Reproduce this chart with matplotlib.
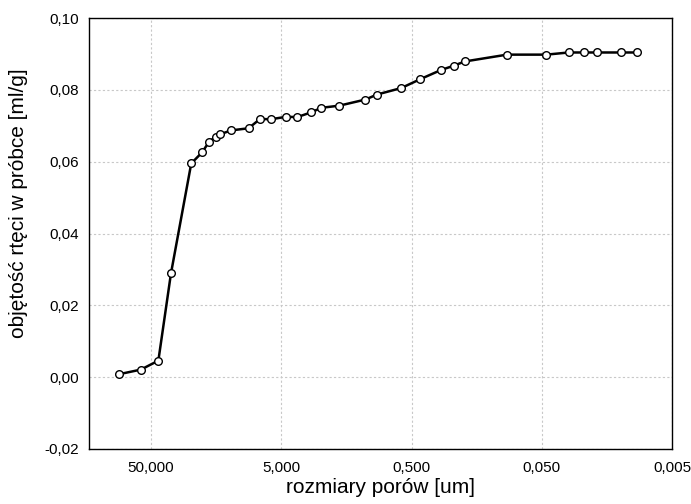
import matplotlib
matplotlib.use("Agg")
import matplotlib.pyplot as plt
from matplotlib.ticker import FixedLocator

plt.rcParams['font.family'] = ['Liberation Sans', 'DejaVu Sans']

pore_size = [88.9, 60.0, 44.0, 35.2, 24.6, 20.3, 17.9, 16.0, 14.8, 12.2, 8.93,
             7.28, 6.04, 4.58, 3.78, 2.97, 2.46, 1.79, 1.13, 0.92, 0.60, 0.427,
             0.298, 0.238, 0.195, 0.0925, 0.046, 0.0311, 0.0237, 0.0188,
             0.0123, 0.00925]
volume = [0.0008, 0.0021, 0.0046, 0.0289, 0.0595, 0.0626, 0.0656, 0.0669,
          0.0676, 0.0687, 0.0693, 0.0719, 0.0718, 0.0725, 0.0724, 0.0737,
          0.0750, 0.0756, 0.0773, 0.0787, 0.0805, 0.0830, 0.0855, 0.0867,
          0.0879, 0.0898, 0.0898, 0.0904, 0.0904, 0.0904, 0.0904, 0.0904]

x_ticks = [50, 5, 0.5, 0.05, 0.005]
x_tick_labels = ['50,000', '5,000', '0,500', '0,050', '0,005']
y_ticks = [-0.02, 0.0, 0.02, 0.04, 0.06, 0.08, 0.10]
y_tick_labels = ['-0,02', '0,00', '0,02', '0,04', '0,06', '0,08', '0,10']

fig = plt.figure(figsize=(6.91, 5.04), dpi=100)
ax = fig.add_axes([89/691, 1 - 449/504, (672 - 89)/691, (449 - 18)/504])

ax.plot(pore_size, volume, color='black', linewidth=1.8, marker='o',
        markersize=5.5, markerfacecolor='white', markeredgecolor='black',
        markeredgewidth=1.0, zorder=3)

ax.set_xscale('log')
ax.set_xlim(150, 0.005)
ax.set_ylim(-0.02, 0.10)
ax.xaxis.set_major_locator(FixedLocator(x_ticks))
ax.xaxis.set_minor_locator(FixedLocator([]))
ax.set_xticks(x_ticks)
ax.set_xticklabels(x_tick_labels)
ax.set_yticks(y_ticks)
ax.set_yticklabels(y_tick_labels)
ax.tick_params(axis='both', length=0, labelsize=11)
ax.tick_params(axis='y', pad=7)
ax.tick_params(axis='x', pad=9)

ax.grid(True, color='#c8c8c8', linestyle=(0, (2, 2)), linewidth=0.8)
ax.set_axisbelow(True)
for s in ax.spines.values():
    s.set_linewidth(1.0)

ax.set_xlabel('rozmiary porów [um]', fontsize=15, labelpad=2)
ax.set_ylabel('objętość rtęci w próbce [ml/g]', fontsize=15)
ax.yaxis.set_label_coords(-0.105, 0.57)

fig.savefig('out.png', dpi=100)
